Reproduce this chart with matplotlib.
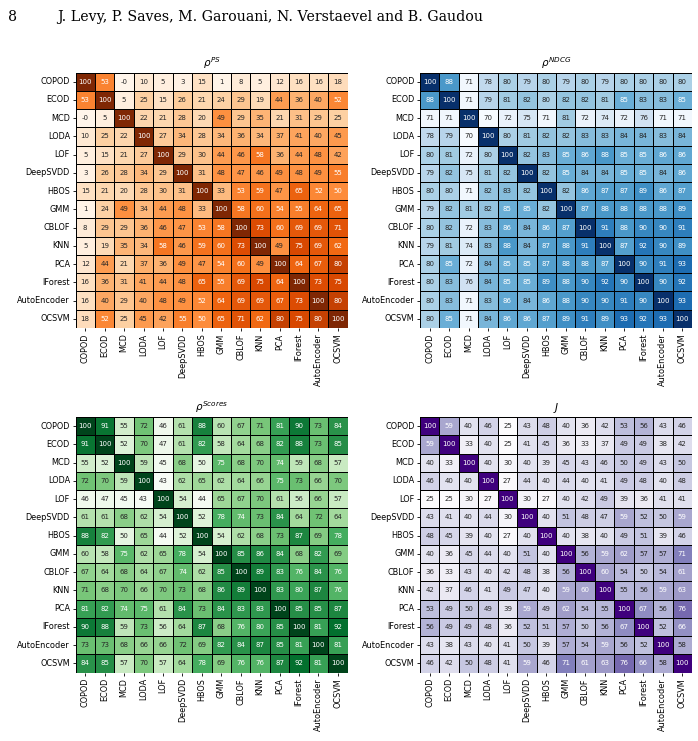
import numpy as np
import matplotlib
matplotlib.use("Agg")
import matplotlib.pyplot as plt
import seaborn as sns

detectors = ["COPOD", "ECOD", "MCD", "LODA", "LOF", "DeepSVDD", "HBOS", "GMM",
             "CBLOF", "KNN", "PCA", "IForest", "AutoEncoder", "OCSVM"]

# rho^PS  (the "-0" cells are tiny negatives)
rho_ps = [
    [100, 53, -0.3, 10, 5, 3, 15, 1, 8, 5, 12, 16, 16, 18],
    [53, 100, 5, 25, 15, 26, 21, 24, 29, 19, 44, 36, 40, 52],
    [-0.3, 5, 100, 22, 21, 28, 20, 49, 29, 35, 21, 31, 29, 25],
    [10, 25, 22, 100, 27, 34, 28, 34, 36, 34, 37, 41, 40, 45],
    [5, 15, 21, 27, 100, 29, 30, 44, 46, 58, 36, 44, 48, 42],
    [3, 26, 28, 34, 29, 100, 31, 48, 47, 46, 49, 48, 49, 55],
    [15, 21, 20, 28, 30, 31, 100, 33, 53, 59, 47, 65, 52, 50],
    [1, 24, 49, 34, 44, 48, 33, 100, 58, 60, 54, 55, 64, 65],
    [8, 29, 29, 36, 46, 47, 53, 58, 100, 73, 60, 69, 69, 71],
    [5, 19, 35, 34, 58, 46, 59, 60, 73, 100, 49, 75, 69, 62],
    [12, 44, 21, 37, 36, 49, 47, 54, 60, 49, 100, 64, 67, 80],
    [16, 36, 31, 41, 44, 48, 65, 55, 69, 75, 64, 100, 73, 75],
    [16, 40, 29, 40, 48, 49, 52, 64, 69, 69, 67, 73, 100, 80],
    [18, 52, 25, 45, 42, 55, 50, 65, 71, 62, 80, 75, 80, 100],
]

rho_ndcg = [
    [100, 88, 71, 78, 80, 79, 80, 79, 80, 79, 80, 80, 80, 80],
    [88, 100, 71, 79, 81, 82, 80, 82, 82, 81, 85, 83, 83, 85],
    [71, 71, 100, 70, 72, 75, 71, 81, 72, 74, 72, 76, 71, 71],
    [78, 79, 70, 100, 80, 81, 82, 82, 83, 83, 84, 84, 83, 84],
    [80, 81, 72, 80, 100, 82, 83, 85, 86, 88, 85, 85, 86, 86],
    [79, 82, 75, 81, 82, 100, 82, 85, 84, 84, 85, 85, 84, 86],
    [80, 80, 71, 82, 83, 82, 100, 82, 86, 87, 87, 89, 86, 87],
    [79, 82, 81, 82, 85, 85, 82, 100, 87, 88, 88, 88, 88, 89],
    [80, 82, 72, 83, 86, 84, 86, 87, 100, 91, 88, 90, 90, 91],
    [79, 81, 74, 83, 88, 84, 87, 88, 91, 100, 87, 92, 90, 89],
    [80, 85, 72, 84, 85, 85, 87, 88, 88, 87, 100, 90, 91, 93],
    [80, 83, 76, 84, 85, 85, 89, 88, 90, 92, 90, 100, 90, 92],
    [80, 83, 71, 83, 86, 84, 86, 88, 90, 90, 91, 90, 100, 93],
    [80, 85, 71, 84, 86, 86, 87, 89, 91, 89, 93, 92, 93, 100],
]

rho_scores = [
    [100, 91, 55, 72, 46, 61, 88, 60, 67, 71, 81, 90, 73, 84],
    [91, 100, 52, 70, 47, 61, 82, 58, 64, 68, 82, 88, 73, 85],
    [55, 52, 100, 59, 45, 68, 50, 75, 68, 70, 74, 59, 68, 57],
    [72, 70, 59, 100, 43, 62, 65, 62, 64, 66, 75, 73, 66, 70],
    [46, 47, 45, 43, 100, 54, 44, 65, 67, 70, 61, 56, 66, 57],
    [61, 61, 68, 62, 54, 100, 52, 78, 74, 73, 84, 64, 72, 64],
    [88, 82, 50, 65, 44, 52, 100, 54, 62, 68, 73, 87, 69, 78],
    [60, 58, 75, 62, 65, 78, 54, 100, 85, 86, 84, 68, 82, 69],
    [67, 64, 68, 64, 67, 74, 62, 85, 100, 89, 83, 76, 84, 76],
    [71, 68, 70, 66, 70, 73, 68, 86, 89, 100, 83, 80, 87, 76],
    [81, 82, 74, 75, 61, 84, 73, 84, 83, 83, 100, 85, 85, 87],
    [90, 88, 59, 73, 56, 64, 87, 68, 76, 80, 85, 100, 81, 92],
    [73, 73, 68, 66, 66, 72, 69, 82, 84, 87, 85, 81, 100, 81],
    [84, 85, 57, 70, 57, 64, 78, 69, 76, 76, 87, 92, 81, 100],
]

jaccard = [
    [100, 59, 40, 46, 25, 43, 48, 40, 36, 42, 53, 56, 43, 46],
    [59, 100, 33, 40, 25, 41, 45, 36, 33, 37, 49, 49, 38, 42],
    [40, 33, 100, 40, 30, 40, 39, 45, 43, 46, 50, 49, 43, 50],
    [46, 40, 40, 100, 27, 44, 40, 44, 40, 41, 49, 48, 40, 48],
    [25, 25, 30, 27, 100, 30, 27, 40, 42, 49, 39, 36, 41, 41],
    [43, 41, 40, 44, 30, 100, 40, 51, 48, 47, 59, 52, 50, 59],
    [48, 45, 39, 40, 27, 40, 100, 40, 38, 40, 49, 51, 39, 46],
    [40, 36, 45, 44, 40, 51, 40, 100, 56, 59, 62, 57, 57, 71],
    [36, 33, 43, 40, 42, 48, 38, 56, 100, 60, 54, 50, 54, 61],
    [42, 37, 46, 41, 49, 47, 40, 59, 60, 100, 55, 56, 59, 63],
    [53, 49, 50, 49, 39, 59, 49, 62, 54, 55, 100, 67, 56, 76],
    [56, 49, 49, 48, 36, 52, 51, 57, 50, 56, 67, 100, 52, 66],
    [43, 38, 43, 40, 41, 50, 39, 57, 54, 59, 56, 52, 100, 58],
    [46, 42, 50, 48, 41, 59, 46, 71, 61, 63, 76, 66, 58, 100],
]

W, H = 698, 741
fig = plt.figure(figsize=(W / 100, H / 100), dpi=100)

# page header of the paper
fig.text(8 / W, 1 - 17 / H, "8", family="DejaVu Serif", fontsize=10.2, va="center")
fig.text(57 / W, 1 - 17 / H, "J. Levy, P. Saves, M. Garouani, N. Verstaevel and B. Gaudou",
         family="DejaVu Serif", fontsize=10.2, va="center")

panels = [
    (rho_ps, "Oranges", r"$\rho^{PS}$", 75.5, 72.5),
    (rho_ndcg, "Blues", r"$\rho^{NDCG}$", 420.0, 72.5),
    (rho_scores, "Greens", r"$\rho^{Scores}$", 75.5, 417.0),
    (jaccard, "Purples", r"$J$", 420.0, 417.0),
]

cw, ch = 272.0, 255.5
for data, cmap, title, x0, y0 in panels:
    ax = fig.add_axes([x0 / W, 1 - (y0 + ch) / H, cw / W, ch / H])
    sns.heatmap(np.array(data), ax=ax, cmap=cmap, annot=True, fmt=".0f",
                annot_kws={"fontsize": 5}, linewidths=0.6, linecolor="black",
                cbar=False, xticklabels=detectors, yticklabels=detectors)
    ax.set_xticklabels(detectors, rotation=90, fontsize=5.9)
    ax.set_yticklabels(detectors, rotation=0, fontsize=5.9)
    ax.tick_params(length=2.5, width=0.6, pad=1.5)
    ax.set_title(title, fontsize=7.5, pad=4)

fig.savefig("out.png", dpi=100)
